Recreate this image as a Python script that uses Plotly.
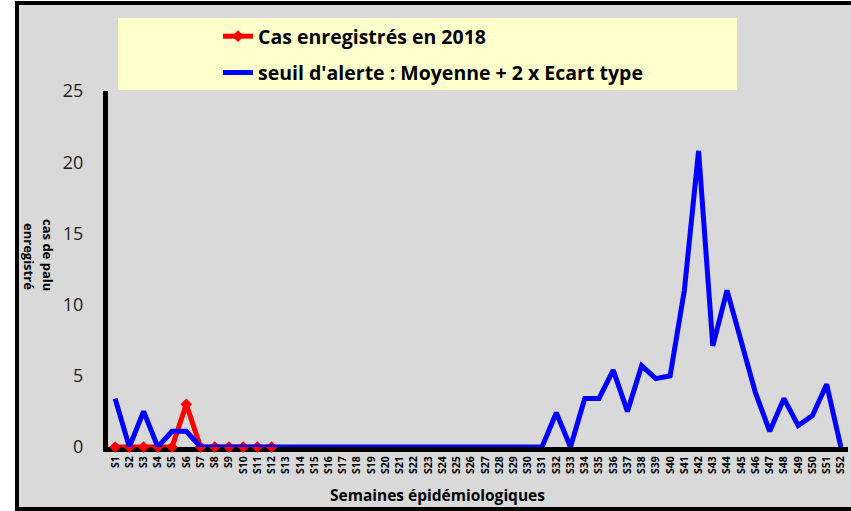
import plotly.graph_objects as go

weeks = [f"S{i}" for i in range(1, 53)]

cas_2018 = [0, 0, 0, 0, 0, 3, 0, 0, 0, 0, 0, 0]

seuil_alerte = [3.4, 0, 2.5, 0, 1.1, 1.1, 0, 0, 0, 0,
                0, 0, 0, 0, 0, 0, 0, 0, 0, 0,
                0, 0, 0, 0, 0, 0, 0, 0, 0, 0,
                0, 2.4, 0, 3.4, 3.4, 5.4, 2.5, 5.7, 4.8, 5.0,
                11.0, 20.8, 7.1, 11.0, 7.3, 3.8, 1.1, 3.4, 1.5, 2.2,
                4.4, 0]

W, H = 851, 511
# plot area in screen pixels
SL, SR, ST, SB = 108, 848, 91, 447
L, T = SL, ST
R, B = W - SR, H - SB
PW, PH = W - L - R, H - T - B

def px(x):
    return (x - L) / PW

def py(y):
    return (H - B - y) / PH

FONT = "'Open Sans', Lato, sans-serif"

fig = go.Figure()

fig.add_trace(go.Scatter(
    x=weeks[:len(cas_2018)], y=cas_2018, mode="lines+markers",
    name="Cas enregistrés en 2018",
    line=dict(color="#ff0000", width=5),
    marker=dict(symbol="diamond", size=9, color="#ff0000"),
    legendrank=1, legendgroup="a", cliponaxis=False,
))
fig.add_trace(go.Scatter(
    x=weeks, y=seuil_alerte, mode="lines",
    name="seuil d'alerte : Moyenne + 2 x Ecart type",
    line=dict(color="#0000ff", width=5),
    legendrank=2, legendgroup="b", cliponaxis=False,
))

fig.update_layout(
    width=W, height=H,
    margin=dict(l=L, r=R, t=T, b=B, autoexpand=False),
    paper_bgcolor="white",
    plot_bgcolor="white",
    font=dict(family=FONT, color="black"),
    showlegend=True,
    legend=dict(
        x=px(218), y=py(17), xanchor="left", yanchor="top",
        bgcolor="rgba(0,0,0,0)",
        font=dict(size=19.5, weight="bold", family=FONT),
        tracegroupgap=8,
        itemwidth=30,
    ),
    shapes=[
        dict(type="rect", xref="paper", yref="paper", layer="below",
             x0=px(17), x1=px(870), y0=py(509), y1=py(3),
             fillcolor="#d9d9d9", line=dict(color="black", width=4)),
        dict(type="rect", xref="paper", yref="paper", layer="below",
             x0=px(118), x1=px(737), y0=py(90), y1=py(18),
             fillcolor="#ffffcc", line=dict(width=0)),
    ],
    annotations=[
        dict(text="cas de palu", xref="paper", yref="paper",
             x=px(48), y=py(255), xanchor="center", yanchor="middle",
             showarrow=False, textangle=90,
             font=dict(size=13, weight="bold", family=FONT)),
        dict(text="enregistré", xref="paper", yref="paper",
             x=px(29), y=py(256), xanchor="center", yanchor="middle",
             showarrow=False, textangle=90,
             font=dict(size=13, weight="bold", family=FONT)),
        dict(text="Semaines épidémiologiques", xref="paper", yref="paper",
             x=px(437), y=py(495), xanchor="center", yanchor="middle",
             showarrow=False,
             font=dict(size=15.5, weight="bold", family=FONT)),
    ],
)

fig.update_xaxes(
    type="category", categoryorder="array", categoryarray=weeks,
    range=[-0.5, len(weeks) - 0.5],
    showline=True, linecolor="black", linewidth=5, layer="below traces",
    showgrid=False, zeroline=False, ticks="",
    tickangle=-90, tickfont=dict(size=10.5, weight="bold", family=FONT),
)
fig.update_yaxes(
    range=[0, 25], tickvals=[0, 5, 10, 15, 20, 25],
    showline=True, linecolor="black", linewidth=5, layer="below traces",
    showgrid=False, zeroline=False, ticks="",
    ticklabelstandoff=16,
    tickfont=dict(size=18, color="#222222", family=FONT),
)

fig.write_html(
    "out.html",
    config={"displayModeBar": False},
    post_script="document.body.style.margin='0';document.body.style.overflow='hidden';",
)
